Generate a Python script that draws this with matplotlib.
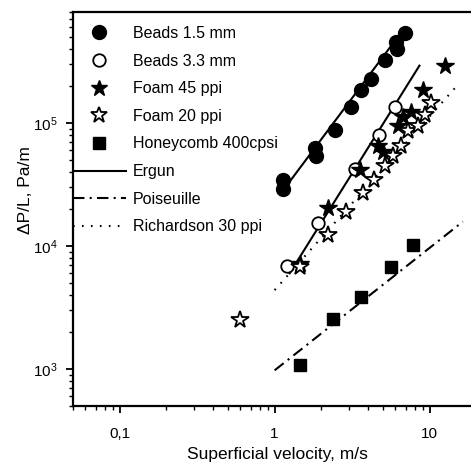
import numpy as np
import matplotlib
matplotlib.use('Agg')
import matplotlib.pyplot as plt
from matplotlib.lines import Line2D
from matplotlib.ticker import LogLocator, FuncFormatter, NullFormatter

plt.rcParams['font.family'] = ['Liberation Sans', 'DejaVu Sans']
plt.rcParams['mathtext.fontset'] = 'custom'
plt.rcParams['mathtext.rm'] = 'Liberation Sans'

# data (velocity in m/s, pressure drop in Pa/m)
beads15_u = [1.14, 1.13, 1.81, 1.86, 2.47, 3.09, 3.62, 4.16, 5.13, 6.1, 6.15, 6.9]
beads15_dp = [34500, 29000, 62500, 53500, 87000, 135000, 185000, 230000, 328000, 455000, 400000, 542000]

beads33_u = [1.21, 1.9, 3.28, 4.71, 5.95]
beads33_dp = [6900, 15500, 42200, 80400, 135000]

foam45_u = [1.45, 2.21, 3.53, 4.65, 5.0, 6.25, 6.7, 7.6, 9.06, 12.5]
foam45_dp = [7200, 20300, 41700, 64600, 58000, 94000, 113000, 124000, 187000, 290000]

foam20_u = [0.594, 1.45, 2.21, 2.9, 3.71, 4.37, 5.13, 5.8, 6.56, 7.25, 8.4, 9.3, 10.2]
foam20_dp = [2500, 6800, 12300, 19000, 26900, 34500, 44400, 53500, 64600, 85500, 94000, 117000, 145000]

honey_u = [1.45, 2.38, 3.62, 5.6, 7.8]
honey_dp = [1080, 2570, 3860, 6790, 10200]

# model lines, end points
ergun1_u = [1.1, 6.9]
ergun1_dp = [26900, 595000]
ergun2_u = [1.25, 8.6]
ergun2_dp = [6000, 293000]
poiseuille_u = [1.0, 16.4]
poiseuille_dp = [975, 15800]
richardson_u = [1.0, 15.6]
richardson_dp = [4380, 212000]

fig = plt.figure(figsize=(4.71, 4.68), dpi=100)
ax = fig.add_axes([73 / 471, 62 / 468, 398 / 471, 394 / 468])

dashdot = (0, (5.5, 2.5, 1, 2.5))
dotted = (0, (0.8, 3.5))

ax.plot(ergun1_u, ergun1_dp, color='black', lw=1.5)
ax.plot(ergun2_u, ergun2_dp, color='black', lw=1.5)
ax.plot(poiseuille_u, poiseuille_dp, color='black', lw=1.5, linestyle=dashdot)
ax.plot(richardson_u, richardson_dp, color='black', lw=1.5, linestyle=dotted)

ax.plot(beads15_u, beads15_dp, 'o', ms=10, color='black', ls='none')
ax.plot(beads33_u, beads33_dp, 'o', ms=9, mfc='white', mec='black', mew=1.3, ls='none')
ax.plot(foam45_u, foam45_dp, '*', ms=13, color='black', ls='none')
ax.plot(foam20_u, foam20_dp, '*', ms=13, mfc='white', mec='black', mew=1.3, ls='none')
ax.plot(honey_u, honey_dp, 's', ms=9, color='black', ls='none')

ax.set_xscale('log')
ax.set_yscale('log')
ax.set_xlim(0.05, 18.5)
ax.set_ylim(500, 8e5)

for s in ['left', 'bottom', 'top']:
    ax.spines[s].set_linewidth(1.6)
ax.spines['right'].set_visible(False)

ax.xaxis.set_major_locator(LogLocator(base=10, numticks=10))
ax.yaxis.set_major_locator(LogLocator(base=10, numticks=10))
ax.xaxis.set_minor_locator(LogLocator(base=10, subs=np.arange(2, 10), numticks=20))
ax.yaxis.set_minor_locator(LogLocator(base=10, subs=np.arange(2, 10), numticks=20))
ax.xaxis.set_minor_formatter(NullFormatter())
ax.yaxis.set_minor_formatter(NullFormatter())

x_names = {0.1: '0,1', 1.0: '1', 10.0: '10'}
ax.xaxis.set_major_formatter(FuncFormatter(lambda v, p: x_names.get(round(v, 3), '')))
ax.yaxis.set_major_formatter(FuncFormatter(
    lambda v, p: r'$\mathregular{10^{%d}}$' % round(np.log10(v))))

ax.tick_params(which='major', direction='out', length=5, width=1.3, labelsize=11, top=False, right=False)
ax.tick_params(which='minor', direction='out', length=3, width=1.0, top=False, right=False)
ax.tick_params(axis='x', which='major', pad=10)
ax.tick_params(axis='y', which='major', pad=6)

ax.set_xlabel('Superficial velocity, m/s', fontsize=12.5)
ax.xaxis.set_label_coords((277 - 73) / 398, -41 / 394)
ax.set_ylabel('ΔP/L, Pa/m', fontsize=12.5)
ax.yaxis.set_label_coords(-40 / 398, (406 - 190) / 394)

handles = [
    Line2D([], [], marker='o', ms=10, color='black', ls='none'),
    Line2D([], [], marker='o', ms=9, mfc='white', mec='black', mew=1.3, ls='none'),
    Line2D([], [], marker='*', ms=12, color='black', ls='none'),
    Line2D([], [], marker='*', ms=12, mfc='white', mec='black', mew=1.3, ls='none'),
    Line2D([], [], marker='s', ms=9, color='black', ls='none'),
    Line2D([], [], color='black', lw=1.5),
    Line2D([], [], color='black', lw=1.5, linestyle=dashdot),
    Line2D([], [], color='black', lw=1.5, linestyle=dotted),
]
labels = ['Beads 1.5 mm', 'Beads 3.3 mm', 'Foam 45 ppi', 'Foam 20 ppi',
          'Honeycomb 400cpsi', 'Ergun', 'Poiseuille', 'Richardson 30 ppi']
ax.legend(handles, labels, loc='upper left', bbox_to_anchor=(0, 1 - 14 / 394),
          frameon=False, borderpad=0, borderaxespad=0, fontsize=11.5,
          handlelength=3.3, handletextpad=0.45, labelspacing=0.79, numpoints=1)

fig.savefig('out.png', dpi=100)
